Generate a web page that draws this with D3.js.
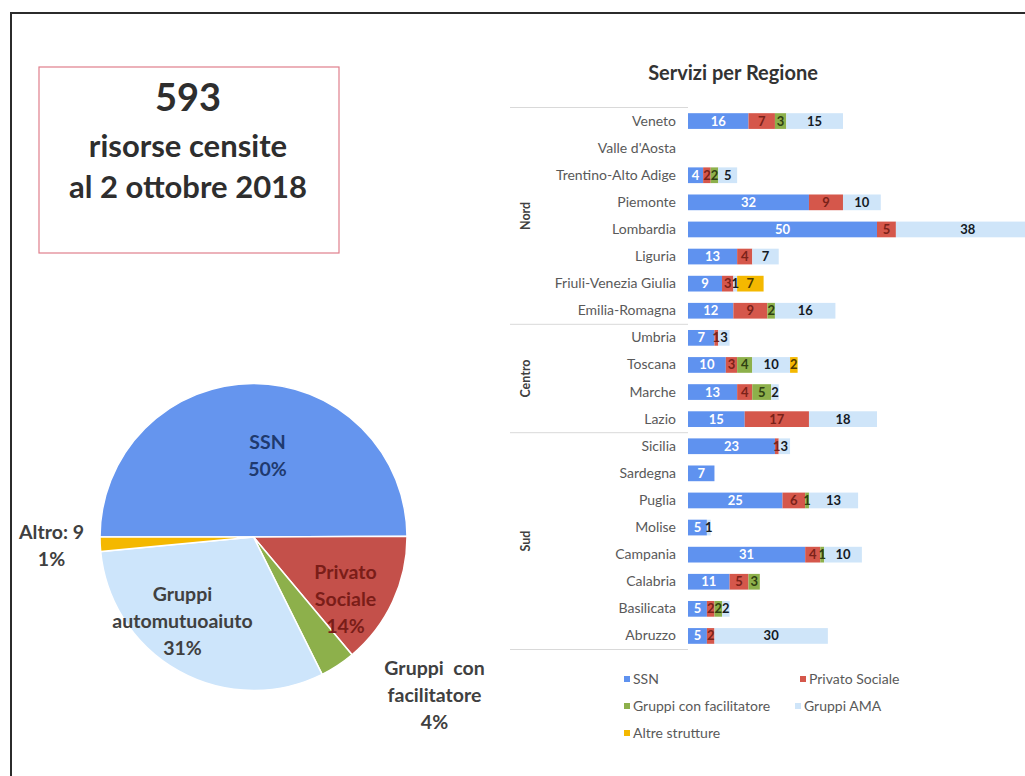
<!DOCTYPE html>
<html>
<head>
<meta charset="utf-8">
<script src="https://cdn.jsdelivr.net/npm/d3@7"></script>
<style>
  body { margin: 0; background: #fff; }
  svg { display: block; }
</style>
</head>
<body>
<div id="chart"></div>
<script>
// Canvas size
var width = 1025;
var height = 776;

// ---- data ----
// Pie: resources by type
var pieNames = ["SSN", "Privato Sociale", "Gruppi con facilitatore", "Gruppi automutuoaiuto", "Altro"];
var pieValues = [296, 83, 22, 183, 9];
var pieLabelLines = [
  ["SSN", "50%"],
  ["Privato", "Sociale", "14%"],
  ["Gruppi  con", "facilitatore", "4%"],
  ["Gruppi", "automutuoaiuto", "31%"],
  ["Altro: 9", "1%"]
];

// Bars: services per region
var regions = ["Veneto", "Valle d'Aosta", "Trentino-Alto Adige", "Piemonte", "Lombardia", "Liguria",
  "Friuli-Venezia Giulia", "Emilia-Romagna", "Umbria", "Toscana", "Marche", "Lazio", "Sicilia",
  "Sardegna", "Puglia", "Molise", "Campania", "Calabria", "Basilicata", "Abruzzo"];
var ssn          = [16, 0, 4, 32, 50, 13, 9, 12, 7, 10, 13, 15, 23, 7, 25, 5, 31, 11, 5, 5];
var privato      = [7, 0, 2, 9, 5, 4, 3, 9, 1, 3, 4, 17, 1, 0, 6, 0, 4, 5, 2, 2];
var facilitatore = [3, 0, 2, 0, 0, 0, 0, 2, 0, 4, 5, 0, 0, 0, 1, 0, 1, 3, 2, 0];
var ama          = [15, 0, 5, 10, 38, 7, 1, 16, 3, 10, 2, 18, 3, 0, 13, 1, 10, 0, 2, 30];
var altre        = [0, 0, 0, 0, 0, 0, 7, 0, 0, 2, 0, 0, 0, 0, 0, 0, 0, 0, 0, 0];

var seriesNames = ["SSN", "Privato Sociale", "Gruppi con facilitatore", "Gruppi AMA", "Altre strutture"];
var groups = ["Nord", "Centro", "Sud"];
var groupSizes = [8, 4, 8];

// ---- styles ----
var barColors = ["#5f92ef", "#d5574b", "#8db04b", "#cfe5f9", "#f4b800"];
var pieColors = ["#6595ee", "#c4504a", "#8db04b", "#cde5fb", "#f4b800"];
var barLabelColors = ["#ffffff", "#7a2219", "#2f3f12", "#141a24", "#4d3a00"];
var pieLabelColors = ["#1f3a6e", "#7a1d18", "#404040", "#404040", "#404040"];
var fontFamily = "Lato, 'Open Sans', sans-serif";

var svg = d3.select("#chart").append("svg")
    .attr("width", width)
    .attr("height", height);

// Outer frame
svg.append("rect")
    .attr("x", 11).attr("y", 13)
    .attr("width", 1030).attr("height", 790)
    .attr("fill", "none")
    .attr("stroke", "#2b2b2b")
    .attr("stroke-width", 2);

// Count box
svg.append("rect")
    .attr("x", 39).attr("y", 67)
    .attr("width", 300).attr("height", 186)
    .attr("fill", "none")
    .attr("stroke", "#e07f8c")
    .attr("stroke-width", 1.2);

var boxText = [["593", 111, 38], ["risorse censite", 157, 31], ["al 2 ottobre 2018", 198, 31]];
svg.selectAll(".boxText")
  .data(boxText)
  .enter().append("text")
    .attr("class", "boxText")
    .attr("x", 188)
    .attr("y", function(d) { return d[1]; })
    .attr("text-anchor", "middle")
    .style("font-family", fontFamily)
    .style("font-weight", "bold")
    .style("font-size", function(d) { return d[2] + "px"; })
    .style("fill", "#2e2e2e")
    .text(function(d) { return d[0]; });

// ---- pie ----
var pieCx = 253.5, pieCy = 537, pieR = 153.5;
var pieG = svg.append("g").attr("transform", "translate(" + pieCx + "," + pieCy + ")");

var pie = d3.pie()
    .sort(null)
    .startAngle(-Math.PI / 2)
    .endAngle(Math.PI * 1.5);
var arc = d3.arc().innerRadius(0).outerRadius(pieR);

pieG.selectAll("path")
  .data(pie(pieValues))
  .enter().append("path")
    .attr("d", arc)
    .attr("fill", function(d, i) { return pieColors[i]; })
    .attr("stroke", "#ffffff")
    .attr("stroke-width", 1.5);

// label anchors relative to pie centre
var pieLabelPos = [[14, -82], [92, 62], [181, 158], [-71, 84], [-202, 8]];
var lineH = 27;
pieLabelLines.forEach(function(lines, i) {
  var t = pieG.append("text")
      .attr("text-anchor", "middle")
      .style("font-family", fontFamily)
      .style("font-weight", "bold")
      .style("font-size", "19.5px")
      .style("fill", pieLabelColors[i]);
  lines.forEach(function(l, j) {
    t.append("tspan")
      .attr("x", pieLabelPos[i][0])
      .attr("y", pieLabelPos[i][1] + (j - (lines.length - 1) / 2) * lineH + 7)
      .style("white-space", "pre")
      .text(l);
  });
});

// ---- stacked bars ----
var table = regions.map(function(r, i) {
  return { region: r, s0: ssn[i], s1: privato[i], s2: facilitatore[i], s3: ama[i], s4: altre[i] };
});
var keys = ["s0", "s1", "s2", "s3", "s4"];
var stacked = d3.stack().keys(keys)(table);

var x = d3.scaleLinear().domain([0, 100]).range([688, 688 + 378]);
var y = d3.scaleBand().domain(regions).range([107.5, 649.5])
    .paddingInner(0.42).paddingOuter(0.21);

svg.append("text")
    .attr("x", 733).attr("y", 80)
    .attr("text-anchor", "middle")
    .style("font-family", fontFamily)
    .style("font-weight", "bold")
    .style("font-size", "20px")
    .style("fill", "#333")
    .text("Servizi per Regione");

var barG = svg.append("g");
var layer = barG.selectAll(".layer")
  .data(stacked)
  .enter().append("g")
    .attr("class", "layer")
    .attr("fill", function(d, i) { return barColors[i]; });

layer.selectAll("rect")
  .data(function(d) { return d; })
  .enter().append("rect")
    .attr("x", function(d) { return x(d[0]); })
    .attr("y", function(d) { return y(d.data.region); })
    .attr("width", function(d) { return x(d[1]) - x(d[0]); })
    .attr("height", y.bandwidth());

// value labels
stacked.forEach(function(s, k) {
  barG.selectAll(".lbl" + k)
    .data(s.filter(function(d) { return d[1] - d[0] > 0; }))
    .enter().append("text")
      .attr("class", "lbl" + k)
      .attr("x", function(d) { return x((d[0] + d[1]) / 2); })
      .attr("y", function(d) { return y(d.data.region) + y.bandwidth() / 2 + 4.5; })
      .attr("text-anchor", "middle")
      .style("font-family", fontFamily)
      .style("font-weight", "bold")
      .style("font-size", "13px")
      .style("fill", barLabelColors[k])
      .text(function(d) { return d[1] - d[0]; });
});

// category axis
var yAxis = d3.axisLeft(y).tickSize(0).tickPadding(12);
var axisG = svg.append("g")
    .attr("transform", "translate(" + 688 + ",0)")
    .call(yAxis);
axisG.select(".domain").remove();
axisG.selectAll("text")
    .style("font-family", fontFamily)
    .style("font-size", "14px")
    .style("fill", "#595959");

// group separators and labels
var step = y.step();
var start = 0;
var bounds = [y.range()[0]];
groupSizes.forEach(function(n, g) {
  var top = y.range()[0] + start * step;
  var bottom = top + n * step;
  bounds.push(bottom);
  svg.append("text")
      .attr("transform", "translate(530," + (top + bottom) / 2 + ") rotate(-90)")
      .attr("text-anchor", "middle")
      .style("font-family", fontFamily)
      .style("font-weight", "bold")
      .style("font-size", "12.5px")
      .style("fill", "#404040")
      .text(groups[g]);
  start += n;
});
svg.selectAll(".sep")
  .data(bounds)
  .enter().append("line")
    .attr("class", "sep")
    .attr("x1", 510).attr("x2", 688)
    .attr("y1", function(d) { return d; })
    .attr("y2", function(d) { return d; })
    .attr("stroke", "#d9d9d9")
    .attr("stroke-width", 1);

// legend
var legendPos = [[627, 679], [803, 679], [627, 706], [798, 706], [627, 733]];
var legend = svg.selectAll(".legend")
  .data(seriesNames)
  .enter().append("g")
    .attr("class", "legend")
    .attr("transform", function(d, i) { return "translate(" + legendPos[i][0] + "," + legendPos[i][1] + ")"; });
legend.append("rect")
    .attr("x", -3).attr("y", -3)
    .attr("width", 6).attr("height", 6)
    .attr("fill", function(d, i) { return barColors[i]; });
legend.append("text")
    .attr("x", 6).attr("y", 5)
    .style("font-family", fontFamily)
    .style("font-size", "14px")
    .style("fill", "#595959")
    .text(function(d) { return d; });
</script>
</body>
</html>
